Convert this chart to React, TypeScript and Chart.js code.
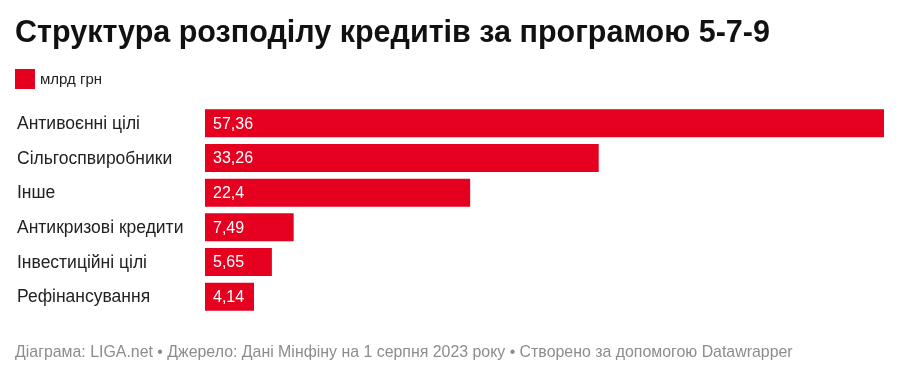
import React, { useEffect, useRef } from "react";
import { Chart, registerables } from "chart.js";

Chart.register(...registerables);

const TITLE = "Структура розподілу кредитів за програмою 5-7-9";
const SERIES_NAME = "млрд грн";
const FOOTER = "Діаграма: LIGA.net • Джерело: Дані Мінфіну на 1 серпня 2023 року • Створено за допомогою Datawrapper";
const categories = [
  "Антивоєнні цілі",
  "Сільгоспвиробники",
  "Інше",
  "Антикризові кредити",
  "Інвестиційні цілі",
  "Рефінансування",
];
const values = [57.36, 33.26, 22.4, 7.49, 5.65, 4.14];

const RED = "#e6001f";
const FONT = "'Liberation Sans', Arial, Helvetica, sans-serif";

export default function App() {
  const ref = useRef<HTMLCanvasElement | null>(null);

  useEffect(() => {
    const canvas = ref.current;
    if (!canvas) return;

    const decor = {
      id: "decor",
      afterDraw(chart: any) {
        const ctx = chart.ctx;
        ctx.save();
        ctx.textBaseline = "alphabetic";
        ctx.textAlign = "left";
        ctx.fillStyle = "#111";
        ctx.font = `bold 30.5px ${FONT}`;
        ctx.fillText(TITLE, 15, 42);
        ctx.fillStyle = RED;
        ctx.fillRect(15, 69, 20, 20);
        ctx.fillStyle = "#222";
        ctx.font = `15px ${FONT}`;
        ctx.fillText(SERIES_NAME, 40, 84);
        ctx.fillStyle = "#8c8c8c";
        ctx.font = `15.9px ${FONT}`;
        ctx.fillText(FOOTER, 15, 357);
        ctx.restore();
      },
    };

    const valueLabels = {
      id: "valueLabels",
      afterDatasetsDraw(chart: any) {
        const ctx = chart.ctx;
        const meta = chart.getDatasetMeta(0);
        ctx.save();
        ctx.fillStyle = "#ffffff";
        ctx.font = `16px ${FONT}`;
        ctx.textAlign = "left";
        ctx.textBaseline = "middle";
        meta.data.forEach((bar: any, i: number) => {
          const txt = String(values[i]).replace(".", ",");
          ctx.fillText(txt, bar.base + 8, bar.y + 1);
        });
        ctx.restore();
      },
    };

    const chart = new Chart(canvas, {
      type: "bar",
      data: {
        labels: categories,
        datasets: [
          {
            label: SERIES_NAME,
            data: values,
            backgroundColor: RED,
            borderWidth: 0,
            categoryPercentage: 1,
            barPercentage: 0.81,
          },
        ],
      },
      options: {
        indexAxis: "y",
        animation: false,
        responsive: false,
        maintainAspectRatio: false,
        layout: { padding: { left: 17, right: 16, top: 106, bottom: 62 } },
        plugins: {
          legend: { display: false },
          tooltip: { enabled: false },
          title: { display: false },
        },
        scales: {
          x: { display: false, min: 0, max: 57.36 },
          y: {
            grid: { display: false, drawTicks: false },
            border: { display: false },
            ticks: {
              crossAlign: "far",
              color: "#222",
              font: { family: FONT, size: 17.5 },
              padding: 0,
              labelOffset: 1,
            },
            afterFit(scale: any) {
              scale.width = 188;
            },
          },
        },
      },
      plugins: [valueLabels, decor],
    });
    return () => chart.destroy();
  }, []);

  return (
    <div style={{ position: "absolute", left: 0, top: 0, width: 900, height: 376, background: "#fff" }}>
      <canvas ref={ref} width={900} height={376} style={{ width: 900, height: 376 }} />
    </div>
  );
}
